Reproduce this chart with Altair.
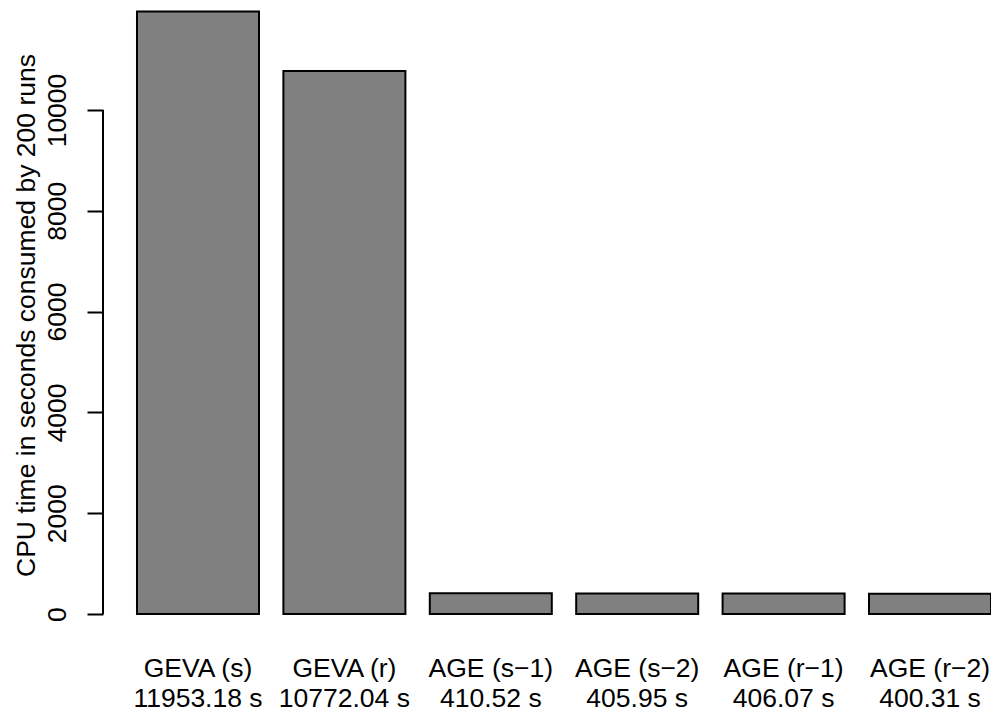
import altair as alt
import pandas as pd

methods = ["GEVA (s)", "GEVA (r)", "AGE (s\u22121)", "AGE (s\u22122)", "AGE (r\u22121)", "AGE (r\u22122)"]
cpu_seconds = [11953.18, 10772.04, 410.52, 405.95, 406.07, 400.31]
time_texts = ["11953.18 s", "10772.04 s", "410.52 s", "405.95 s", "406.07 s", "400.31 s"]
y_ticks = [0, 2000, 4000, 6000, 8000, 10000]
y_title = "CPU time in seconds consumed by 200 runs"

FONT = "Liberation Sans"
FS = 26.5

df = pd.DataFrame({
    "method": [m + "|" + t for m, t in zip(methods, time_texts)],
    "cpu": cpu_seconds,
})
order = list(df["method"])

x_enc = alt.X(
    "method:N",
    sort=order,
    scale=alt.Scale(paddingInner=1 / 6, paddingOuter=0.1161, align=1, round=False),
    axis=alt.Axis(
        title=None,
        ticks=False,
        domain=False,
        labelAngle=0,
        labelExpr="split(datum.label, '|')",
        labelFont=FONT,
        labelFontSize=FS,
        labelColor="black",
        labelBaseline="top",
        labelLineHeight=30,
        labelPadding=41,
        labelOverlap=False,
    ),
)

y_scale = alt.Scale(domain=[0, 12024], nice=False, zero=True)

bars = alt.Chart(df).mark_bar(
    color="#808080", stroke="black", strokeWidth=2
).encode(
    x=x_enc,
    y=alt.Y(
        "cpu:Q",
        scale=y_scale,
        axis=alt.Axis(
            values=y_ticks,
            format="d",
            title=y_title,
            titleFont=FONT,
            titleFontSize=FS,
            titleFontWeight="normal",
            titleColor="black",
            titleAngle=-90,
            titleAlign="center",
            titleBaseline="alphabetic",
            titleX=-69,
            titleY=307,
            labelAngle=-90,
            labelAlign="center",
            labelBaseline="alphabetic",
            labelFont=FONT,
            labelFontSize=FS,
            labelColor="black",
            labelPadding=22,
            labelFlush=False,
            labelOverlap=False,
            tickSize=16,
            tickWidth=2,
            tickColor="black",
            domain=False,
            grid=False,
        ),
    ),
)

axis_line_df = pd.DataFrame({"y0": [y_ticks[0]], "y1": [y_ticks[-1]]})
axis_line = alt.Chart(axis_line_df).mark_rule(color="black", strokeWidth=2).encode(
    x=alt.value(0),
    y=alt.Y("y0:Q", scale=y_scale),
    y2="y1:Q",
)

chart = alt.layer(bars, axis_line).properties(
    width=888,
    height=606,
    autosize=alt.AutoSizeParams(type="none"),
    padding={"left": 95, "top": 0, "right": 0, "bottom": 102},
).configure_view(strokeWidth=0)

chart.save("out.html", embed_options={"renderer": "svg", "actions": False})
